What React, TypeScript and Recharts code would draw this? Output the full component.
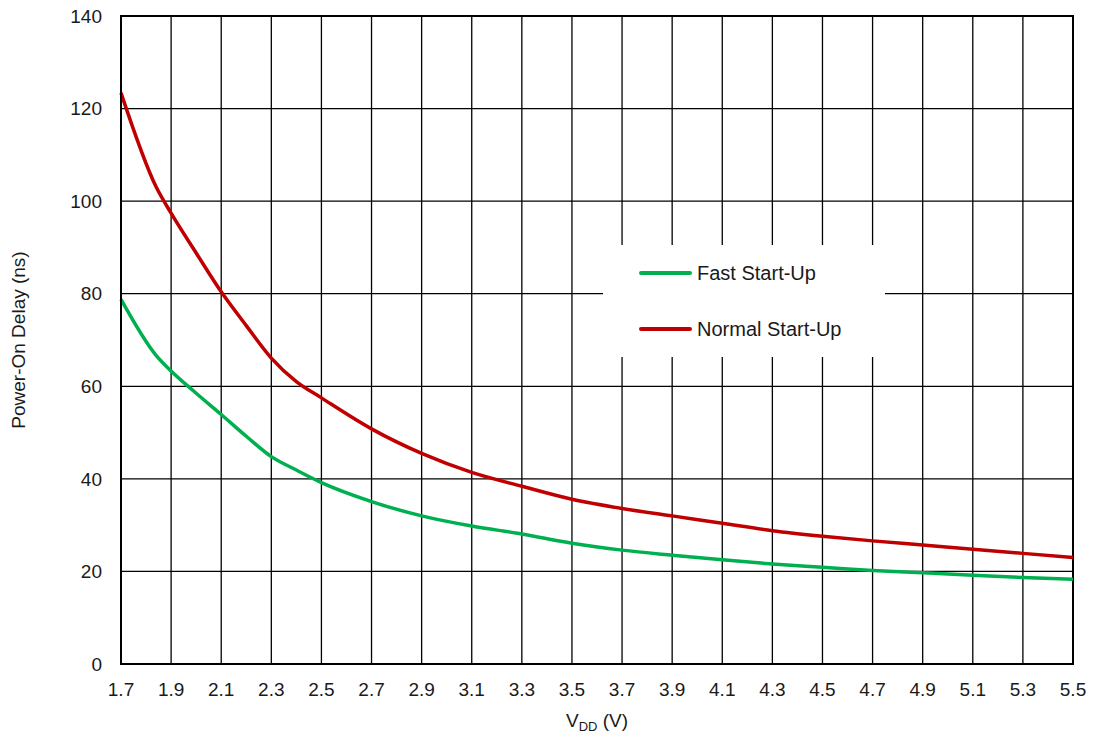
import { LineChart, Line, XAxis, YAxis, CartesianGrid, ReferenceArea } from 'recharts'

const vdd = [1.7, 1.84, 1.9, 2.0, 2.1, 2.2, 2.3, 2.4, 2.5, 2.7, 2.9, 3.1, 3.3, 3.5, 3.7, 3.9, 4.1, 4.3, 4.5, 4.7, 4.9, 5.1, 5.3, 5.5]
const normalStartUp = [123.4, 103.1, 97.4, 88.8, 80.4, 73.1, 66.1, 61.0, 57.5, 50.8, 45.5, 41.4, 38.4, 35.6, 33.6, 32.0, 30.4, 28.8, 27.6, 26.6, 25.7, 24.8, 23.9, 23.0]
const fastStartUp = [78.8, 66.7, 63.3, 58.5, 53.9, 49.2, 44.8, 41.9, 39.2, 35.1, 32.0, 29.8, 28.1, 26.1, 24.6, 23.5, 22.5, 21.6, 20.9, 20.2, 19.7, 19.2, 18.7, 18.3]

const xTicks = [1.7, 1.9, 2.1, 2.3, 2.5, 2.7, 2.9, 3.1, 3.3, 3.5, 3.7, 3.9, 4.1, 4.3, 4.5, 4.7, 4.9, 5.1, 5.3, 5.5]
const yTicks = [0, 20, 40, 60, 80, 100, 120, 140]

const series = [
  { key: 'fast', name: 'Fast Start-Up', color: '#00B050' },
  { key: 'normal', name: 'Normal Start-Up', color: '#C00000' },
]

const data = vdd.map((v, i) => ({ v, fast: fastStartUp[i], normal: normalStartUp[i] }))

const FONT = '"Liberation Sans", Arial, sans-serif'
const TEXT = '#1a1a1a'

// eslint-disable-next-line @typescript-eslint/no-explicit-any
const XTitle = ({ viewBox }: any) => {
  const cx = viewBox.x + viewBox.width / 2
  return (
    <text x={cx} y={727} textAnchor="middle" fill={TEXT} fontSize={19} fontFamily={FONT}>
      <tspan>V</tspan>
      <tspan fontSize={13} dy={4}>DD</tspan>
      <tspan dy={-4}> (V)</tspan>
    </text>
  )
}

// white box over the grid, like the original
const LegendBox = () => (
  <div
    style={{
      position: 'absolute',
      left: 603,
      top: 245,
      width: 282,
      height: 112,
      background: '#fff',
      fontFamily: FONT,
    }}
  >
    {series.map((s, i) => (
      <div
        key={s.key}
        style={{ position: 'absolute', left: 36, top: 28 + i * 56 - 12, height: 24, display: 'flex', alignItems: 'center' }}
      >
        <span style={{ display: 'inline-block', width: 53, height: 4, background: s.color, borderRadius: 2 }} />
        <span style={{ marginLeft: 5, fontSize: 20, color: TEXT, whiteSpace: 'nowrap' }}>{s.name}</span>
      </div>
    ))}
  </div>
)

export default function App() {
  return (
    <div style={{ position: 'absolute', left: 0, top: 0, width: 1094, height: 740, background: '#fff' }}>
      <LineChart width={1094} height={740} data={data} margin={{ top: 16, right: 21, bottom: 46, left: 61 }}>
        <CartesianGrid stroke="#000" strokeWidth={1.3} />
        <ReferenceArea x1={1.7} x2={5.5} y1={0} y2={140} fill="none" stroke="#000" strokeWidth={2} />
        <XAxis
          dataKey="v"
          type="number"
          domain={[1.7, 5.5]}
          ticks={xTicks}
          tickFormatter={(t: number) => t.toFixed(1)}
          tickSize={0}
          tickMargin={19}
          height={30}
          axisLine={{ stroke: '#000', strokeWidth: 2 }}
          tick={{ fill: TEXT, fontSize: 19, fontFamily: FONT }}
          label={<XTitle />}
        />
        <YAxis
          type="number"
          domain={[0, 140]}
          ticks={yTicks}
          width={60}
          tickSize={0}
          tickMargin={19}
          axisLine={{ stroke: '#000', strokeWidth: 2 }}
          tick={{ fill: TEXT, fontSize: 19, fontFamily: FONT }}
          label={{
            value: 'Power-On Delay (ns)',
            angle: -90,
            position: 'insideLeft',
            offset: -43,
            style: { textAnchor: 'middle', fill: TEXT, fontSize: 19, fontFamily: FONT },
          }}
        />
        {series.map((s) => (
          <Line
            key={s.key}
            dataKey={s.key}
            name={s.name}
            type="monotone"
            stroke={s.color}
            strokeWidth={3.5}
            dot={false}
            isAnimationActive={false}
          />
        ))}
      </LineChart>
      <LegendBox />
    </div>
  )
}
